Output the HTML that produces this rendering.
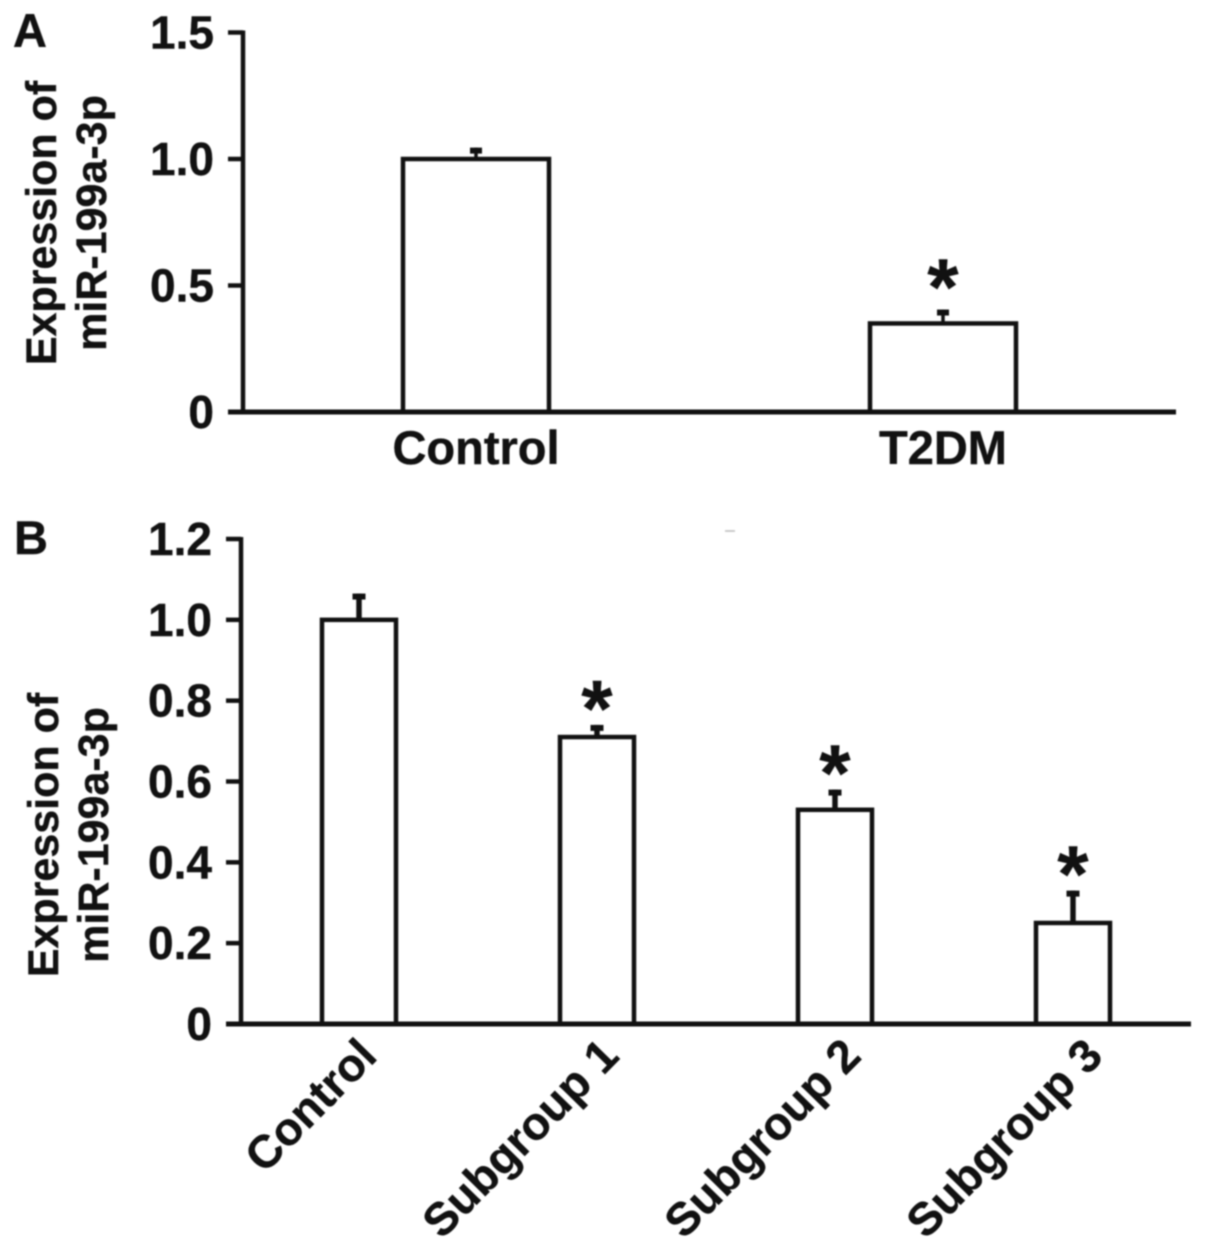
<!DOCTYPE html>
<html lang="en">
<head>
<meta charset="utf-8">
<title>Expression of miR-199a-3p</title>
<style>
html,body{margin:0;padding:0;background:#fff;}
body{width:1205px;height:1253px;overflow:hidden;}
svg{display:block;}
text{font-family:"Liberation Sans",Arial,sans-serif;font-weight:bold;fill:#111;stroke:#111;stroke-width:0.4px;}
#root{filter:blur(0.8px);}
</style>
</head>
<body>
<svg id="chart" xmlns="http://www.w3.org/2000/svg" width="1205" height="1253" viewBox="0 0 1205 1253">
<g id="root"></g>
</svg>
<script>
var categoriesA = ['Control', 'T2DM'];
var valuesA = [1.0, 0.35];
var errorsA = [0.045, 0.055];
var starsA = [false, true];
var tickValuesA = [0, 0.5, 1.0, 1.5];
var tickLabelsA = ['0', '0.5', '1.0', '1.5'];

var categoriesB = ['Control', 'Subgroup 1', 'Subgroup 2', 'Subgroup 3'];
var valuesB = [1.0, 0.71, 0.53, 0.25];
var errorsB = [0.065, 0.03, 0.05, 0.08];
var starsB = [false, true, true, true];
var tickValuesB = [0, 0.2, 0.4, 0.6, 0.8, 1.0, 1.2];
var tickLabelsB = ['0', '0.2', '0.4', '0.6', '0.8', '1.0', '1.2'];

var NS = 'http://www.w3.org/2000/svg';
var root = document.getElementById('root');
var INK = '#111';

function make(tag, attrs, parent, txt) {
  var el = document.createElementNS(NS, tag);
  for (var k in attrs) { el.setAttribute(k, attrs[k]); }
  if (txt !== undefined) { el.textContent = txt; }
  parent.appendChild(el);
  return el;
}
function linearScale(d0, d1, r0, r1) {
  return function (v) { return r0 + (v - d0) * (r1 - r0) / (d1 - d0); };
}
function slug(s) { return s.toLowerCase().replace(/[^a-z0-9]+/g, '-'); }

function drawPanel(cfg) {
  var panel = make('g', {}, root);
  
  

  var y = linearScale(0, cfg.yMax, cfg.y0, cfg.yTop);
  var x = function (i) { return cfg.xFirst + i * cfg.xStep; };

  var letter = make('text', {x: cfg.letterX, y: cfg.letterY, 'font-size': 47}, panel, cfg.letter);
  
  

  var title = make('text', {
    transform: 'translate(' + cfg.titleX + ',' + cfg.titleY + ') rotate(-90)',
    'text-anchor': 'middle', 'font-size': 43
  }, panel);
  
  
  make('tspan', {x: 0, y: 0}, title, 'Expression of');
  make('tspan', {x: 0, y: 50}, title, 'miR-199a-3p');

  var bars = make('g', {}, panel);
  
  

  cfg.values.forEach(function (v, i) {
    var cx = x(i);
    var top = y(v);
    var errTop = y(v + cfg.errors[i]);
    var barName = slug(cfg.categories[i]);

    var err = make('line', {x1: cx, x2: cx, y1: top, y2: errTop, stroke: INK, 'stroke-width': cfg.errW}, bars);
    
    

    var cap = make('line', {x1: cx - cfg.capW / 2, x2: cx + cfg.capW / 2, y1: errTop + 3, y2: errTop + 3, stroke: INK, 'stroke-width': 6}, bars);
    
    

    var bar = make('rect', {
      x: cx - cfg.barW / 2, y: top, width: cfg.barW, height: cfg.y0 - top,
      fill: '#fff', stroke: INK, 'stroke-width': 4.5
    }, bars);
    
    

    if (cfg.stars[i]) {
      var star = make('text', {x: cx, y: errTop + cfg.starDy, 'text-anchor': 'middle', 'font-size': 80}, bars, '*');
      
      
    }

    var lab;
    if (cfg.rotated) {
      lab = make('text', {
        transform: 'translate(' + (cx + 20 + i * 4) + ',' + cfg.labelY + ') rotate(-45.5)',
        'text-anchor': 'end', 'font-size': 46
      }, panel, cfg.categories[i]);
    } else {
      lab = make('text', {x: cx, y: cfg.labelY, 'text-anchor': 'middle', 'font-size': 47}, panel, cfg.categories[i]);
    }
    
    
  });

  var yAxis = make('line', {x1: cfg.axisX, x2: cfg.axisX, y1: cfg.yTop - 2, y2: cfg.y0 + 2, stroke: INK, 'stroke-width': 4.5}, panel);
  
  

  var xAxis = make('line', {x1: cfg.tickX, x2: cfg.axisEnd, y1: cfg.y0, y2: cfg.y0, stroke: INK, 'stroke-width': 5}, panel);
  
  

  cfg.tickValues.forEach(function (t, i) {
    var tick = make('line', {x1: cfg.tickX, x2: cfg.axisX, y1: y(t), y2: y(t), stroke: INK, 'stroke-width': 4.5}, panel);
    
    

    var tl = make('text', {x: cfg.tickLabelX, y: y(t) + 16, 'text-anchor': 'end', 'font-size': 46}, panel, cfg.tickLabels[i]);
    
    
  });
}

drawPanel({
  key: 'a', letter: 'A', letterX: 13, letterY: 47,
  categories: categoriesA, values: valuesA, errors: errorsA, stars: starsA,
  tickValues: tickValuesA, tickLabels: tickLabelsA, yMax: 1.5,
  y0: 412, yTop: 32.5, axisX: 243, tickX: 228, axisEnd: 1176, tickLabelX: 214,
  xFirst: 476, xStep: 467, barW: 146, capW: 12, errW: 3.5, starDy: 5,
  titleX: 56, titleY: 223, labelY: 464, rotated: false
});

drawPanel({
  key: 'b', letter: 'B', letterX: 14, letterY: 554,
  categories: categoriesB, values: valuesB, errors: errorsB, stars: starsB,
  tickValues: tickValuesB, tickLabels: tickLabelsB, yMax: 1.2,
  y0: 1024, yTop: 539, axisX: 241, tickX: 226, axisEnd: 1191, tickLabelX: 212,
  xFirst: 359, xStep: 238, barW: 74, capW: 13, errW: 5.5, starDy: 11,
  titleX: 58, titleY: 835, labelY: 1058, rotated: true
});

var speck = make('line', {x1: 725, x2: 735, y1: 531, y2: 531, stroke: '#bbb', 'stroke-width': 1.5}, root);


</script>
</body>
</html>
